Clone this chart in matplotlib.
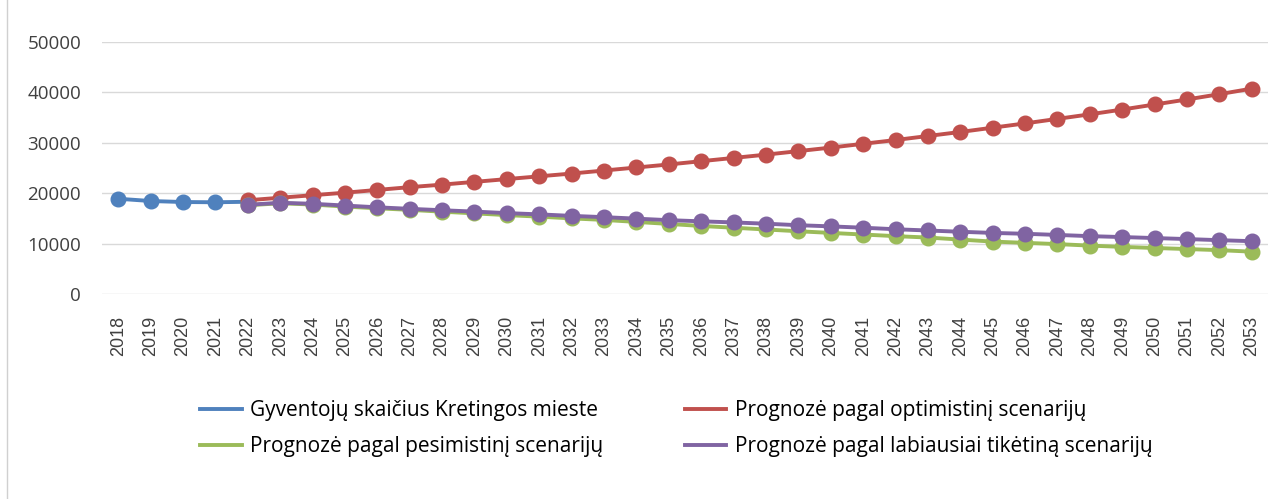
import matplotlib
matplotlib.use("Agg")
import matplotlib.pyplot as plt
from matplotlib.lines import Line2D

years = list(range(2018, 2054))

# actual population (2018-2022)
actual_years = list(range(2018, 2023))
actual = [18900, 18450, 18250, 18200, 18300]

# scenario forecasts (2022-2053)
fc_years = list(range(2022, 2054))
optimistic = [18600, 19100, 19600, 20100, 20650, 21200, 21700, 22250, 22800, 23350,
              23900, 24500, 25100, 25700, 26350, 27000, 27650, 28350, 29050, 29800,
              30550, 31350, 32150, 33000, 33850, 34750, 35650, 36600, 37600, 38600,
              39650, 40750]
pessimistic = [17600, 18000, 17750, 17350, 17000, 16700, 16330, 16000, 15650, 15350,
               15000, 14700, 14300, 13900, 13500, 13150, 12800, 12450, 12120, 11800,
               11480, 11200, 10800, 10400, 10150, 9900, 9600, 9350, 9130, 8920,
               8700, 8400]
likely = [17700, 18100, 17900, 17550, 17200, 16900, 16620, 16350, 16050, 15800,
          15500, 15250, 14950, 14650, 14420, 14200, 13950, 13650, 13420, 13150,
          12850, 12600, 12350, 12120, 11950, 11720, 11480, 11300, 11100, 10900,
          10680, 10480]

labels = ["Gyventojų skaičius Kretingos mieste",
          "Prognozė pagal optimistinį scenarijų",
          "Prognozė pagal pesimistinį scenarijų",
          "Prognozė pagal labiausiai tikėtiną scenarijų"]
colors = ["#4F81BD", "#C0504D", "#9BBB59", "#8064A2"]

W, H = 1280, 499
fig = plt.figure(figsize=(W / 100, H / 100), dpi=100)
ax = fig.add_axes([102 / W, (H - 294) / H, (1268 - 102) / W, (294 - 42) / H])

series = [(actual_years, actual), (fc_years, optimistic),
          (fc_years, pessimistic), (fc_years, likely)]
for (xs, ys), c, lab in zip(series, colors, labels):
    ax.plot(xs, ys, color=c, lw=2.8, marker="o", ms=10.5, label=lab, zorder=3)

ax.set_xlim(2017.5, 2053.5)
ax.set_ylim(0, 50000)
ax.set_yticks(range(0, 50001, 10000))
ax.set_xticks(years)
ax.set_xticklabels([str(y) for y in years], rotation=90, family="Liberation Sans",
                   fontsize=13, color="#404040")
for t in ax.get_yticklabels():
    t.set_family("Open Sans")
    t.set_fontsize(13.5)
    t.set_color("#404040")
ax.tick_params(axis="x", length=0, pad=16)
ax.tick_params(axis="y", length=0, pad=15)
ax.grid(axis="y", color="#d9d9d9", lw=1)
for s in ax.spines.values():
    s.set_visible(False)

# row-wise legend order: blue, red / green, purple
order = [0, 2, 1, 3]
handles = [Line2D([], [], color=colors[i], lw=2.8) for i in order]
fig.legend(handles, [labels[i] for i in order], loc="upper left",
           bbox_to_anchor=(190 / W, 1 - 390 / H), ncol=2, frameon=False,
           borderpad=0, prop={"family": "Open Sans", "size": 15},
           handlelength=2.0, handletextpad=0.4, columnspacing=3.9,
           labelspacing=0.7)

fig.add_artist(Line2D([7 / W, 7 / W], [0, 1], color="#d0d0d0", lw=1,
                      transform=fig.transFigure))

fig.savefig("out.png", dpi=100, facecolor="white")
